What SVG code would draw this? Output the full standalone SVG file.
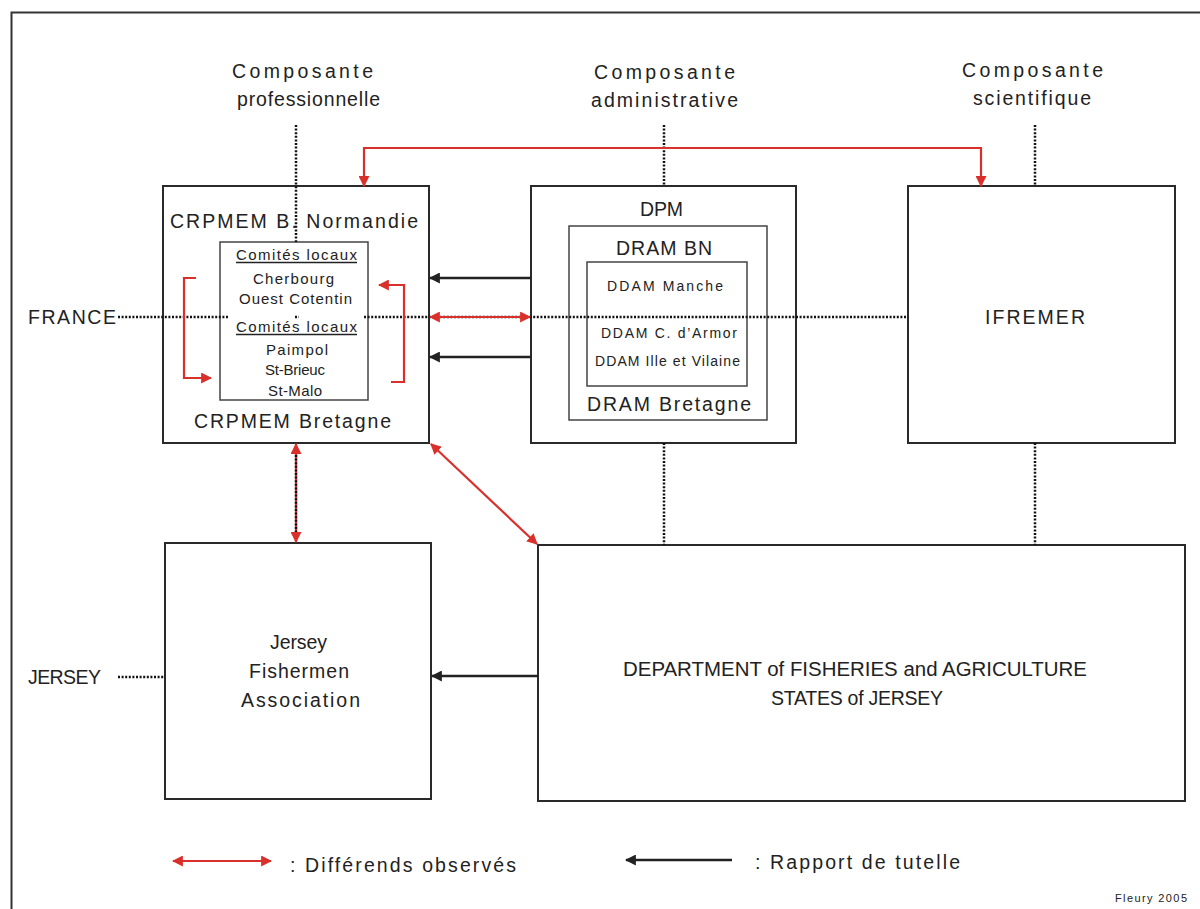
<svg xmlns="http://www.w3.org/2000/svg" width="1200" height="909" viewBox="0 0 1200 909">
<style>
text{font-family:"Liberation Sans",Arial,sans-serif;fill:#222}
.box{fill:#fff;stroke:#2a2a2a;stroke-width:2}
.inbox{fill:#fff;stroke:#444;stroke-width:1.5}
.dot{stroke:#111;stroke-width:2.5;stroke-dasharray:2 1.6;fill:none}
.red{stroke:#d9302c;stroke-width:2.2;fill:none}
.blk{stroke:#222;stroke-width:2.5;fill:none}
.l{font-size:19.5px}
.s{font-size:15px}
.d{font-size:14px}
</style>
<defs>
<marker id="ra" viewBox="0 0 10 10" refX="9" refY="5" markerWidth="5" markerHeight="5" orient="auto-start-reverse" markerUnits="strokeWidth"><path d="M0,0L10,5L0,10z" fill="#d9302c"/></marker>
<marker id="ba" viewBox="0 0 10 10" refX="9" refY="5" markerWidth="4.4" markerHeight="4.4" orient="auto-start-reverse" markerUnits="strokeWidth"><path d="M0,0L10,5L0,10z" fill="#222"/></marker>
</defs>
<rect width="1200" height="909" fill="#fff"/>
<path d="M11.5,909V12.5H1200" fill="none" stroke="#333" stroke-width="2"/>

<g id="headers">
<text class="l" x="232" y="78" textLength="141" lengthAdjust="spacing">Composante</text>
<text class="l" x="237" y="106" textLength="143" lengthAdjust="spacing">professionnelle</text>
<text class="l" x="594" y="79" textLength="141" lengthAdjust="spacing">Composante</text>
<text class="l" x="591" y="107" textLength="147" lengthAdjust="spacing">administrative</text>
<text class="l" x="962" y="77" textLength="141" lengthAdjust="spacing">Composante</text>
<text class="l" x="973" y="105" textLength="118" lengthAdjust="spacing">scientifique</text>
<text class="l" x="28" y="324" textLength="88" lengthAdjust="spacing">FRANCE</text>
<text class="l" x="28" y="684" textLength="73" lengthAdjust="spacing">JERSEY</text>
</g>

<g id="crpmem">
<rect class="box" x="163" y="186" width="266" height="257"/>
<text class="l" x="170" y="228" textLength="248" lengthAdjust="spacing">CRPMEM B. Normandie</text>
<text class="l" x="194" y="428" textLength="197" lengthAdjust="spacing">CRPMEM Bretagne</text>
</g>
<g id="comites">
<rect class="inbox" x="220" y="242" width="148" height="158"/>
<text class="s" x="236" y="260" textLength="121" lengthAdjust="spacing">Comités locaux</text>
<line x1="236" y1="262.5" x2="357" y2="262.5" stroke="#222" stroke-width="1.3"/>
<text class="s" x="253" y="284" textLength="81" lengthAdjust="spacing">Cherbourg</text>
<text class="s" x="239" y="304" textLength="113" lengthAdjust="spacing">Ouest Cotentin</text>
<text class="s" x="236" y="332" textLength="121" lengthAdjust="spacing">Comités locaux</text>
<line x1="236" y1="334.5" x2="357" y2="334.5" stroke="#222" stroke-width="1.3"/>
<text class="s" x="266" y="355" textLength="62" lengthAdjust="spacing">Paimpol</text>
<text class="s" x="265" y="375" textLength="60" lengthAdjust="spacing">St-Brieuc</text>
<text class="s" x="268" y="396" textLength="54" lengthAdjust="spacing">St-Malo</text>
</g>

<g id="dpm">
<rect class="box" x="531" y="186" width="265" height="257"/>
<text class="l" x="640" y="216" textLength="43" lengthAdjust="spacing">DPM</text>
</g>
<g id="dram">
<rect class="inbox" x="569" y="226" width="198" height="194"/>
<text class="l" x="616" y="255" textLength="96" lengthAdjust="spacing">DRAM BN</text>
<text class="l" x="587" y="411" textLength="164" lengthAdjust="spacing">DRAM Bretagne</text>
</g>
<g id="ddam">
<rect class="inbox" x="587" y="262" width="160" height="124"/>
<text class="d" x="607" y="291" textLength="116" lengthAdjust="spacing">DDAM Manche</text>
<text class="d" x="601" y="338" textLength="136" lengthAdjust="spacing">DDAM C. d’Armor</text>
<text class="d" x="595" y="366" textLength="145" lengthAdjust="spacing">DDAM Ille et Vilaine</text>
</g>

<g id="ifremer">
<rect class="box" x="908" y="186" width="267" height="257"/>
<text class="l" x="985" y="324" textLength="100" lengthAdjust="spacing">IFREMER</text>
</g>

<g id="jersey">
<rect class="box" x="165" y="543" width="266" height="256"/>
<text class="l" x="270" y="649" textLength="57" lengthAdjust="spacing">Jersey</text>
<text class="l" x="249" y="678" textLength="100" lengthAdjust="spacing">Fishermen</text>
<text class="l" x="241" y="707" textLength="119" lengthAdjust="spacing">Association</text>
</g>

<g id="department">
<rect class="box" x="538" y="545" width="647" height="256"/>
<text class="l" x="623" y="676" textLength="464" lengthAdjust="spacingAndGlyphs">DEPARTMENT of FISHERIES and AGRICULTURE</text>
<text class="l" x="771" y="705" textLength="172" lengthAdjust="spacing">STATES of JERSEY</text>
</g>

<g id="connectors">
<path class="dot" d="M296,125V242M664,125V186M1035,125V186M664,443V545M1035,443V545"/>
<path class="dot" d="M118,317H228M295,317H299M364,317H908"/>
<path class="dot" d="M118,677H165"/>
<path class="red" d="M364,186V148H981V186" marker-start="url(#ra)" marker-end="url(#ra)"/>
<path class="red" d="M196,278H184V378H211" marker-end="url(#ra)"/>
<path class="red" d="M391,382H404V285H379" marker-end="url(#ra)"/>
<line class="blk" x1="531" y1="278" x2="430" y2="278" marker-end="url(#ba)"/>
<line class="blk" x1="531" y1="357" x2="430" y2="357" marker-end="url(#ba)"/>
<line class="red" x1="430" y1="317" x2="530" y2="317" marker-start="url(#ra)" marker-end="url(#ra)"/>
<line class="red" x1="296" y1="444" x2="296" y2="542" marker-start="url(#ra)" marker-end="url(#ra)"/>
<path class="dot" d="M296,455V532" stroke-width="1.5"/>
<line class="red" x1="431" y1="444" x2="537" y2="544" marker-start="url(#ra)" marker-end="url(#ra)"/>
<line class="blk" x1="538" y1="676" x2="432" y2="676" marker-end="url(#ba)"/>
</g>

<g id="legend">
<line class="red" x1="173" y1="861" x2="271" y2="861" marker-start="url(#ra)" marker-end="url(#ra)"/>
<text class="l" x="290" y="872" textLength="226" lengthAdjust="spacing">: Différends observés</text>
<line class="blk" x1="732" y1="860" x2="626" y2="860" marker-end="url(#ba)"/>
<text class="l" x="755" y="869" textLength="205" lengthAdjust="spacing">: Rapport de tutelle</text>
<text x="1115" y="902" style="font-size:11px" textLength="72" lengthAdjust="spacing">Fleury 2005</text>
</g>
</svg>
